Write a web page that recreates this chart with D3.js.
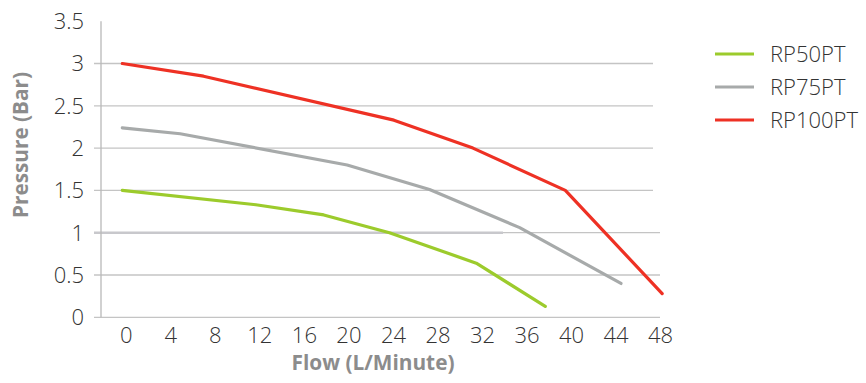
<!DOCTYPE html>
<meta charset="utf-8">
<script src="https://d3js.org/d3.v7.min.js"></script>
<style>
  body { margin: 0; background: #fff; }
  text { font-family: "Open Sans", "Noto Sans", sans-serif; }
</style>
<body>
<svg id="vis" width="866" height="383"></svg>
<script>
// tick labels
var flowTicks = [0, 4, 8, 12, 16, 20, 24, 28, 32, 36, 40, 44, 48];
var pressureTicks = [0, 0.5, 1, 1.5, 2, 2.5, 3, 3.5];

// series
var seriesNames = ["RP50PT", "RP75PT", "RP100PT"];
var seriesColors = ["#9ccb2c", "#a7aaaa", "#ee3124"];
var rp50Flow = [0, 12, 18.1, 24.0, 31.8, 38.0];
var rp50Pressure = [1.5, 1.33, 1.21, 1.0, 0.64, 0.13];
var rp75Flow = [0, 5.2, 20.2, 27.6, 35.7, 44.8];
var rp75Pressure = [2.24, 2.17, 1.80, 1.51, 1.06, 0.40];
var rp100Flow = [0, 7.3, 24.4, 31.5, 39.8, 48.5];
var rp100Pressure = [3.0, 2.85, 2.33, 2.0, 1.5, 0.28];

var series = [
  d3.zip(rp50Flow, rp50Pressure),
  d3.zip(rp75Flow, rp75Pressure),
  d3.zip(rp100Flow, rp100Pressure)
];

var svg = d3.select("#vis");

//scales
var x = d3.scaleLinear().domain([0, 48]).range([122.3, 656.6]);
var y = d3.scaleLinear().domain([0, 3.5]).range([317.3, 21.2]);
var axisX = 101;

//grid lines (no line at 3.5)
svg.append("g")
  .selectAll("line")
  .data(pressureTicks.filter(function(d) { return d < 3.5; }))
  .enter()
  .append("line")
    .attr("x1", axisX - 7)
    .attr("x2", function(d) { return d >= 1.5 ? 653 : 660; })
    .attr("y1", function(d) { return y(d); })
    .attr("y2", function(d) { return y(d); })
    .style("stroke", "#c4c4c4")
    .style("stroke-width", 1.3);

// the darker segment sitting on the 1 bar line
svg.append("line")
  .attr("x1", axisX - 7)
  .attr("x2", x(34.2))
  .attr("y1", y(1))
  .attr("y2", y(1))
  .style("stroke", "#c8c8cc")
  .style("stroke-width", 2.5);

//y axis line
svg.append("line")
  .attr("x1", axisX).attr("x2", axisX)
  .attr("y1", y(3.5)).attr("y2", y(0))
  .style("stroke", "#b8b8b8")
  .style("stroke-width", 1.3);

//tick labels
svg.append("g")
  .selectAll("text")
  .data(pressureTicks)
  .enter()
  .append("text")
    .attr("x", 84)
    .attr("y", function(d) { return y(d); })
    .attr("dy", "0.36em")
    .attr("text-anchor", "end")
    .attr("font-size", "22px")
    .attr("font-weight", 300)
    .style("fill", "#333")
    .text(function(d) { return d; });

svg.append("g")
  .selectAll("text")
  .data(flowTicks)
  .enter()
  .append("text")
    .attr("x", function(d) { return x(d) + 4; })
    .attr("y", 342.5)
    .attr("text-anchor", "middle")
    .attr("font-size", "22px")
    .attr("font-weight", 300)
    .style("fill", "#333")
    .text(function(d) { return d; });

//axis titles
svg.append("text")
  .attr("transform", "translate(28,145) rotate(-90)")
  .attr("text-anchor", "middle")
  .attr("font-size", "21px")
  .attr("font-weight", "bold")
  .attr("textLength", 146)
  .attr("lengthAdjust", "spacingAndGlyphs")
  .style("fill", "#8c8c8c")
  .text("Pressure (Bar)");

svg.append("text")
  .attr("x", 373)
  .attr("y", 370)
  .attr("text-anchor", "middle")
  .attr("font-size", "21px")
  .attr("font-weight", "bold")
  .attr("textLength", 163)
  .attr("lengthAdjust", "spacingAndGlyphs")
  .style("fill", "#8c8c8c")
  .text("Flow (L/Minute)");

//lines
var line = d3.line()
  .x(function(d) { return x(d[0]); })
  .y(function(d) { return y(d[1]); });

svg.append("g")
  .selectAll("path")
  .data(series)
  .enter()
  .append("path")
    .attr("d", line)
    .style("fill", "none")
    .style("stroke", function(d, i) { return seriesColors[i]; })
    .style("stroke-width", 3.2)
    .style("stroke-linecap", "round")
    .style("stroke-linejoin", "round");

//legend
var legend = svg.append("g")
  .selectAll("g")
  .data(seriesNames)
  .enter()
  .append("g")
    .attr("transform", function(d, i) { return "translate(715," + (54 + i * 33) + ")"; });
legend.append("line")
  .attr("x1", 0).attr("x2", 39)
  .style("stroke", function(d, i) { return seriesColors[i]; })
  .style("stroke-width", 3);
legend.append("text")
  .attr("x", 55)
  .attr("dy", "0.36em")
  .attr("font-size", "22px")
  .attr("font-weight", 300)
  .style("fill", "#333")
  .text(function(d) { return d; });
</script>
</body>
